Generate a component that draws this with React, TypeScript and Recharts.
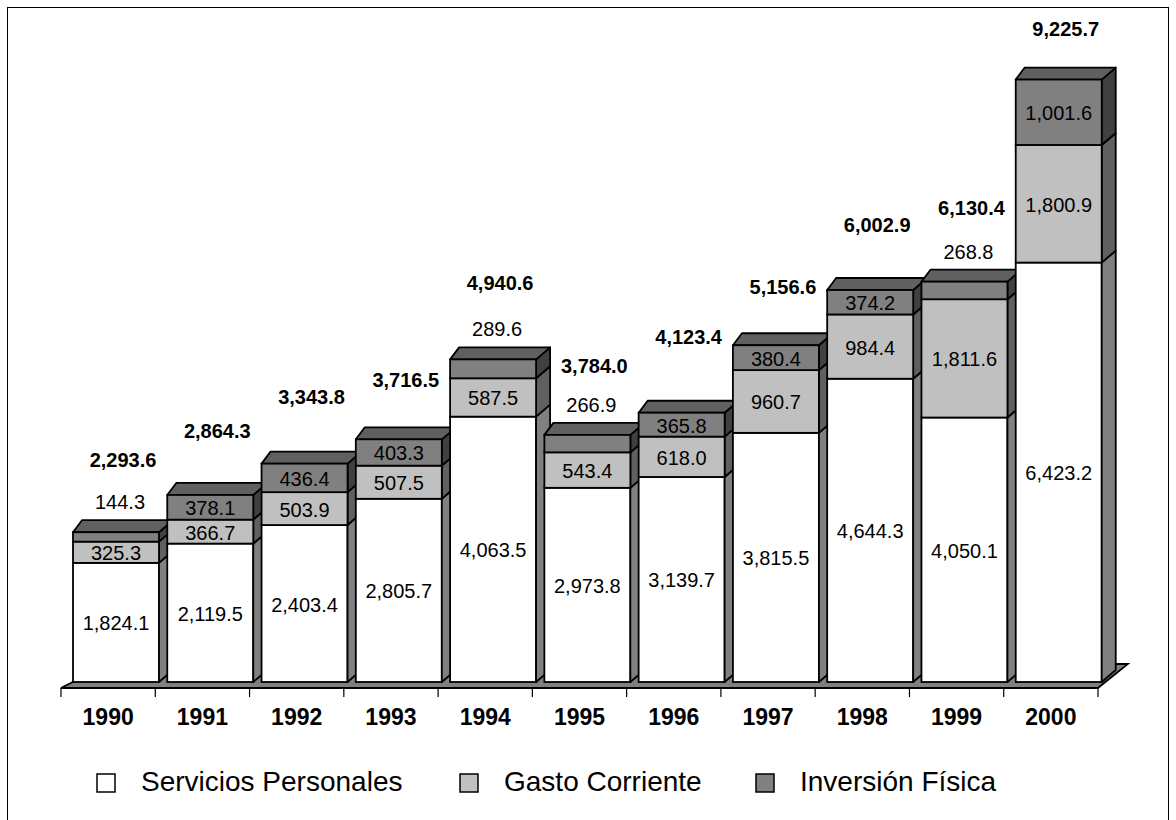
import React from "react";
import { BarChart, Bar, XAxis, YAxis, LabelList } from "recharts";

// values in millions
const years = ["1990", "1991", "1992", "1993", "1994", "1995", "1996", "1997", "1998", "1999", "2000"];
const serviciosPersonales = [1824.1, 2119.5, 2403.4, 2805.7, 4063.5, 2973.8, 3139.7, 3815.5, 4644.3, 4050.1, 6423.2];
const gastoCorriente = [325.3, 366.7, 503.9, 507.5, 587.5, 543.4, 618.0, 960.7, 984.4, 1811.6, 1800.9];
const inversionFisica = [144.3, 378.1, 436.4, 403.3, 289.6, 266.9, 365.8, 380.4, 374.2, 268.8, 1001.6];
const totales = [2293.6, 2864.3, 3343.8, 3716.5, 4940.6, 3784.0, 4123.4, 5156.6, 6002.9, 6130.4, 9225.7];
const seriesNames = ["Servicios Personales", "Gasto Corriente", "Inversión Física"];

const data = years.map((year, i) => ({
  year,
  servicios: serviciosPersonales[i],
  gasto: gastoCorriente[i],
  inversion: inversionFisica[i],
  total: totales[i],
}));

// layout
const W = 1160;
const H = 812;
const MARGIN = { top: 21, right: 70, left: 53, bottom: 78 };
const BAND = (W - MARGIN.left - MARGIN.right) / years.length;
const SHIFT = 8; // front faces sit a little right of the category centre
const DL = 9; // depth offset, left edge of the top face
const DR = 14; // depth offset, right side faces
const DY = 12;
const SW = 1.8;
const FONT = "'Liberation Sans', Arial, sans-serif";

const front = ["#ffffff", "#c0c0c0", "#808080"];
const sideFill = ["#808080", "#606060", "#404040"];
const topFill = "#606060";

// how far each total sits above its bar (hand placed in the original)
const totalLift = [72, 64, 67, 59, 76, 69, 76, 58, 65, 74, 51];

const fmt = (v: number) =>
  v.toLocaleString("en-US", { minimumFractionDigits: 1, maximumFractionDigits: 1 });

function ServiciosShape(props: any) {
  const { x, y, width, height, index } = props;
  const fx = x + SHIFT;
  const xr = fx + width;
  const base = y + height;
  const k = height / serviciosPersonales[index];
  const yG = y - gastoCorriente[index] * k;
  const yI = yG - inversionFisica[index] * k;

  const side = (top: number, bottom: number, fill: string) => (
    <polygon
      points={`${xr},${bottom} ${xr},${top} ${xr + DR},${top - DY} ${xr + DR},${bottom - DY}`}
      fill={fill}
      stroke="#000"
      strokeWidth={SW}
      strokeLinejoin="round"
    />
  );

  let floor = null;
  if (index === 0) {
    const L = x - (BAND - width) / 2;
    const R = L + BAND * years.length;
    floor = (
      <polygon
        points={`${L},${base + 6} ${R},${base + 6} ${R + 30},${base - 18} ${L + 48},${base - 18}`}
        fill="#808080"
        stroke="#000"
        strokeWidth={SW}
      />
    );
  }

  return (
    <g>
      {floor}
      <rect x={fx} y={y} width={width} height={height} fill={front[0]} stroke="#000" strokeWidth={SW} />
      {side(y, base, sideFill[0])}
      {side(yG, y, sideFill[1])}
      {side(yI, yG, sideFill[2])}
      <polygon
        points={`${fx},${yI} ${fx + DL},${yI - DY} ${xr + DR},${yI - DY} ${xr},${yI}`}
        fill={topFill}
        stroke="#000"
        strokeWidth={SW}
        strokeLinejoin="round"
      />
    </g>
  );
}

const frontShape = (fill: string) => (props: any) => {
  const { x, y, width, height } = props;
  return <rect x={x + SHIFT} y={y} width={width} height={height} fill={fill} stroke="#000" strokeWidth={SW} />;
};

const box = (props: any) => {
  const vb = props.viewBox && props.viewBox.width != null ? props.viewBox : props;
  return { x: vb.x + SHIFT, y: vb.y, width: vb.width, height: vb.height };
};

function SegmentLabel(props: any) {
  const b = box(props);
  return (
    <text
      x={b.x + b.width / 2}
      y={b.y + b.height / 2 + 1}
      textAnchor="middle"
      dominantBaseline="central"
      fontSize={20}
      fontFamily={FONT}
      fill="#000"
    >
      {fmt(Number(props.value))}
    </text>
  );
}

function InversionLabel(props: any) {
  const b = box(props);
  const v = Number(props.value);
  const outside = v < 300;
  return (
    <text
      x={b.x + b.width / 2 + (outside ? 4 : 0)}
      y={outside ? b.y - 30 : b.y + b.height / 2 + 1}
      textAnchor="middle"
      dominantBaseline="central"
      fontSize={20}
      fontFamily={FONT}
      fill="#000"
    >
      {fmt(v)}
    </text>
  );
}

function TotalLabel(props: any) {
  const b = box(props);
  return (
    <text
      x={b.x + b.width / 2 + 7}
      y={b.y - totalLift[props.index]}
      textAnchor="middle"
      dominantBaseline="central"
      fontSize={20}
      fontWeight="bold"
      fontFamily={FONT}
      fill="#000"
    >
      {fmt(Number(props.value))}
    </text>
  );
}

function YearTick(props: any) {
  const { x, y, payload, index } = props;
  const half = BAND / 2;
  return (
    <g>
      <line x1={x - half} x2={x - half} y1={y + 6} y2={y + 15} stroke="#000" strokeWidth={1.2} />
      {index === years.length - 1 && (
        <line x1={x + half} x2={x + half} y1={y + 6} y2={y + 15} stroke="#000" strokeWidth={1.2} />
      )}
      <text x={x} y={y + 43} textAnchor="middle" fontSize={23} fontWeight="bold" fontFamily={FONT} fill="#000">
        {payload.value}
      </text>
    </g>
  );
}

const legendX = [89, 452, 748];

export default function App() {
  return (
    <div
      style={{
        position: "absolute",
        left: 7,
        top: 7,
        width: W,
        height: H,
        border: "1px solid #000",
        borderBottom: "none",
        background: "#fff",
      }}
    >
      <BarChart width={W} height={H} data={data} margin={MARGIN} barSize={86}>
        <XAxis
          dataKey="year"
          interval={0}
          axisLine={false}
          tickLine={false}
          tickSize={0}
          tickMargin={0}
          height={60}
          tick={<YearTick />}
        />
        <YAxis hide type="number" domain={[0, 10000]} />
        <Bar dataKey="servicios" stackId="s" shape={ServiciosShape} isAnimationActive={false}>
          <LabelList dataKey="servicios" content={SegmentLabel} />
        </Bar>
        <Bar dataKey="gasto" stackId="s" shape={frontShape(front[1])} isAnimationActive={false}>
          <LabelList dataKey="gasto" content={SegmentLabel} />
        </Bar>
        <Bar dataKey="inversion" stackId="s" shape={frontShape(front[2])} isAnimationActive={false}>
          <LabelList dataKey="inversion" content={InversionLabel} />
          <LabelList dataKey="total" content={TotalLabel} />
        </Bar>
      </BarChart>
      <svg width={W} height={60} style={{ position: "absolute", left: 0, top: 740 }}>
        {seriesNames.map((name, i) => (
          <g key={name}>
            <rect x={legendX[i]} y={26} width={18} height={18} fill={front[i]} stroke="#000" strokeWidth={1.5} />
            <text x={legendX[i] + 44} y={43} fontSize={28} fontFamily={FONT} fill="#000">
              {name}
            </text>
          </g>
        ))}
      </svg>
    </div>
  );
}
